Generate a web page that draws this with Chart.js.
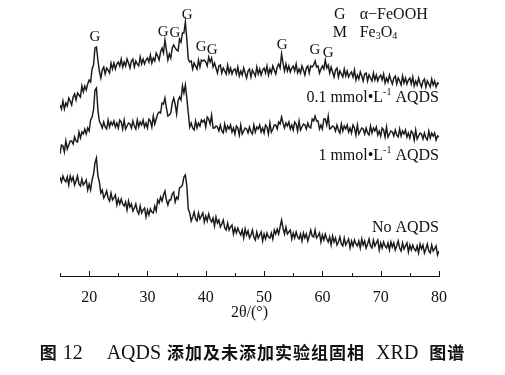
<!DOCTYPE html>
<html>
<head>
<meta charset="utf-8">
<script src="https://cdn.jsdelivr.net/npm/chart.js@4"></script>
<style>
  body { margin: 0; background: #fff; }
  #wrap { position: relative; width: 505px; height: 375px; }
  #caption {
    position: absolute; left: 0; top: 340px; width: 505px; text-align: center;
    line-height: 24px; color: #111; white-space: nowrap;
  }
  #caption .cjk { font-family: "Noto Sans CJK SC", sans-serif; font-weight: 700; font-size: 17px; letter-spacing: 1px; }
  #caption .lat { font-family: "Liberation Serif", serif; font-size: 20px; }
</style>
</head>
<body>
<div id="wrap">
  <canvas id="xrd" width="505" height="375"></canvas>
  <div id="caption"><span class="cjk">图</span><span class="lat" style="margin-left:5px">12</span><span class="lat" style="margin-left:24px">AQDS</span><span class="cjk" style="margin-left:6px">添加及未添加实验组固相</span><span class="lat" style="margin-left:11px">XRD</span><span class="cjk" style="margin-left:11px">图谱</span></div>
</div>
<script>
// 2θ sampling: 15° to 80°, every 0.25°
const thetaStart = 15;
const thetaStep = 0.25;

// intensities (a.u., stacked offsets as in the figure)
const aqds01 = [
  171,167,175,167, 173,170,178,175, 171,179,182,176, 183,181,179,190, 184,190,186,192,
  196,194,207,211, 228,229,216,205, 198,206,209,202, 208,206,203,213, 207,213,207,212,
  214,210,217,209, 214,210,217,213, 208,215,217,209, 215,212,210,219, 212,217,212,216,
  218,214,221,213, 218,215,223,220, 216,224,228,223, 236,226,216,222, 218,228,231,228,
  226,225,237,234, 243,243,254,237, 217,214,215,207, 213,210,207,216, 209,216,215,216,
  214,210,219,214, 218,209,213,208, 203,210,211,203, 208,205,202,211, 203,208,202,206,
  207,202,209,200, 205,201,208,203, 198,205,207,199, 206,203,200,209, 202,207,201,206,
  208,203,210,201, 207,203,210,206, 202,209,212,208, 222,213,205,212, 205,210,204,208,
  210,205,212,203, 207,203,210,206, 201,208,210,203, 210,209,211,215, 209,210,203,207,
  210,207,216,208, 211,203,209,204, 199,206,208,199, 205,202,199,207, 200,205,199,202,
  204,199,206,196, 201,197,204,200, 195,202,203,195, 201,198,195,203, 196,201,195,199,
  201,196,202,193, 198,194,201,196, 192,198,200,192, 198,195,191,200, 193,198,192,196,
  198,192,199,190, 195,191,198,193, 189,195,197,189, 195,192,189,197, 191,195,189,193,
  192
];
const aqds1 = [
  122,131,130,124, 135,127,131,135, 135,132,139,135, 134,144,138,144, 142,147,142,148,
  145,156,159,166, 186,188,166,155, 152,148,154,149, 147,156,149,154, 151,155,149,153,
  148,156,154,147, 156,147,150,153, 152,148,155,150, 147,156,149,154, 151,156,149,153,
  148,157,155,149, 160,152,157,162, 164,163,173,172, 178,168,160,161, 163,173,178,172,
  162,175,179,176, 190,183,191,178, 163,149,153,148, 146,155,148,153, 150,156,154,156,
  149,159,157,152, 161,148,148,150, 149,145,151,145, 143,152,145,150, 147,151,144,148,
  142,150,148,141, 151,142,145,148, 147,143,149,144, 142,151,144,149, 147,151,144,148,
  143,151,149,142, 153,144,147,151, 151,147,154,152, 159,153,148,153, 150,154,147,151,
  146,154,152,145, 155,146,149,152, 151,147,153,149, 148,157,155,160, 155,155,147,151,
  147,157,157,151, 160,147,148,150, 149,145,151,146, 143,152,145,150, 147,151,144,148,
  143,151,148,141, 151,142,145,148, 147,142,148,143, 141,150,143,148, 145,149,141,145,
  140,148,146,139, 149,139,142,145, 144,140,146,141, 139,147,140,145, 142,146,139,143,
  138,145,143,136, 146,137,140,143, 142,137,143,138, 136,145,138,143, 140,143,136,140,
  139
];
const noAqds = [
  99,94,100,96, 94,99,91,100, 95,99,91,95, 100,92,90,97, 91,93,96,86,
  92,86,96,102, 113,118,100,94, 83,86,78,81, 85,78,75,83, 76,78,81,71,
  77,72,77,72, 70,74,66,75, 69,72,65,68, 72,65,62,70, 63,66,68,59,
  66,61,67,64, 63,70,65,76, 73,79,75,81, 85,76,71,76, 76,82,84,74,
  79,77,88,89, 91,99,101,90, 67,63,55,59, 64,57,55,63, 57,60,63,54,
  60,55,62,57, 54,58,50,59, 53,56,49,52, 56,48,46,53, 46,49,51,42,
  48,43,48,44, 41,46,38,47, 41,45,38,41, 46,39,36,44, 38,41,44,35,
  42,37,43,39, 38,43,37,46, 42,47,42,49, 56,48,42,49, 42,44,46,37,
  43,38,44,39, 37,42,35,43, 38,42,35,40, 46,40,39,46, 38,40,43,34,
  41,36,42,37, 34,39,31,40, 34,38,31,34, 39,32,30,38, 31,34,37,28,
  35,30,36,32, 30,35,28,37, 31,35,28,32, 37,30,28,36, 30,33,36,26,
  33,28,34,30, 28,33,26,34, 29,33,26,30, 35,28,25,33, 27,30,33,24,
  31,26,31,27, 25,30,23,32, 27,31,23,27, 32,25,23,31, 25,27,30,21,
  25
];

// peak markers (G = goethite)
const peakTheta = [21.0, 32.7, 34.7, 36.8, 39.2, 41.1, 53.1, 58.7, 61.0];
const peakLabelY = [239, 244, 243, 261, 229, 226, 231, 226, 223];

// curve names, placed at right end
const seriesNames = [
  [['0.1 mmol'], ['•'], ['L'], ['-1', 'sup'], [' AQDS']],
  [['1 mmol'], ['•'], ['L'], ['-1', 'sup'], [' AQDS']],
  [['No AQDS']]
];
const seriesNameY = [178, 120, 48];

const xTicks = { min: 15, max: 80, step: 5 };

const thetas = aqds01.map((_, i) => thetaStart + i * thetaStep);
const toXY = arr => arr.map((v, i) => ({ x: thetas[i], y: v }));

const SERIF = '"Liberation Serif", "Times New Roman", serif';

function drawRich(ctx, parts, x, y, size, align) {
  const fontOf = m => (m ? Math.round(size * 0.62) : size) + 'px ' + SERIF;
  const widths = parts.map(([t, m]) => { ctx.font = fontOf(m); return ctx.measureText(t).width; });
  const total = widths.reduce((a, b) => a + b, 0);
  let cx = align === 'right' ? x - total : (align === 'center' ? x - total / 2 : x);
  ctx.textAlign = 'left';
  ctx.textBaseline = 'middle';
  parts.forEach(([t, m], i) => {
    ctx.font = fontOf(m);
    const dy = m === 'sup' ? -size * 0.33 : (m === 'sub' ? size * 0.22 : 0);
    ctx.fillText(t, cx, y + dy);
    cx += widths[i];
  });
}

const decor = {
  id: 'decor',
  afterDraw(chart) {
    const { ctx, scales: { x, y } } = chart;
    ctx.save();
    // tick marks on the inside of the axis
    ctx.strokeStyle = '#111';
    ctx.lineWidth = 1;
    x.ticks.forEach(t => {
      const px = Math.round(x.getPixelForValue(t.value)) + 0.5;
      const len = t.value % 10 === 0 ? 5 : 3;
      ctx.beginPath();
      ctx.moveTo(px, x.top);
      ctx.lineTo(px, x.top - len);
      ctx.stroke();
    });

    ctx.fillStyle = '#111';
    peakTheta.forEach((t, i) => {
      drawRich(ctx, [['G']], x.getPixelForValue(t), y.getPixelForValue(peakLabelY[i]), 15, 'center');
    });

    // legend in the top right corner
    drawRich(ctx, [['G']], x.getPixelForValue(63.0), y.getPixelForValue(261), 16, 'center');
    drawRich(ctx, [['α−FeOOH']], x.getPixelForValue(66.4), y.getPixelForValue(261), 16, 'left');
    drawRich(ctx, [['M']], x.getPixelForValue(63.0), y.getPixelForValue(243), 16, 'center');
    drawRich(ctx, [['Fe'], ['3', 'sub'], ['O'], ['4', 'sub']], x.getPixelForValue(66.4), y.getPixelForValue(243), 16, 'left');

    seriesNames.forEach((parts, i) => {
      drawRich(ctx, parts, x.getPixelForValue(80), y.getPixelForValue(seriesNameY[i]), 16, 'right');
    });
    ctx.restore();
  }
};

const lineStyle = { borderColor: '#1a1a1a', borderWidth: 1.45, pointRadius: 0, tension: 0, fill: false };

new Chart(document.getElementById('xrd'), {
  type: 'line',
  data: {
    datasets: [
      Object.assign({ label: '0.1 mmol/L AQDS', data: toXY(aqds01) }, lineStyle),
      Object.assign({ label: '1 mmol/L AQDS', data: toXY(aqds1) }, lineStyle),
      Object.assign({ label: 'No AQDS', data: toXY(noAqds) }, lineStyle)
    ]
  },
  options: {
    responsive: false,
    animation: false,
    layout: { padding: { left: 60, right: 66, top: 0, bottom: 53 } },
    plugins: { legend: { display: false }, tooltip: { enabled: false } },
    scales: {
      x: {
        type: 'linear',
        min: xTicks.min,
        max: xTicks.max,
        afterFit: s => { s.height = 46; },
        grid: { display: false },
        border: { display: true, color: '#111', width: 1 },
        ticks: {
          stepSize: xTicks.step,
          padding: 4,
          color: '#111',
          font: { family: SERIF, size: 16 },
          maxRotation: 0,
          autoSkip: false,
          callback: v => (v % 10 === 0 ? String(v) : '')
        },
        title: {
          display: true,
          text: '2θ/(°)',
          color: '#111',
          font: { family: SERIF, size: 16 },
          padding: 0
        }
      },
      y: { display: false, min: 0, max: 276 }
    }
  },
  plugins: [decor]
});
</script>
</body>
</html>
